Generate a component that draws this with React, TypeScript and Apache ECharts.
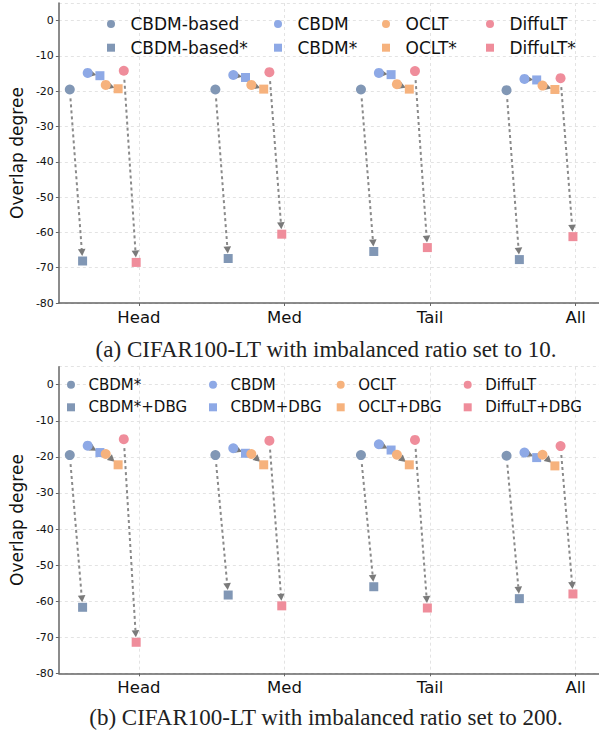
import React, { useEffect, useRef } from 'react';
import * as echarts from 'echarts';

// ---------- data ----------
const categories = ['Head', 'Med', 'Tail', 'All'];
const categoryValues = [1, 2, 3, 4];

// (a) CIFAR100-LT, imbalance ratio 10
const aNames = ['CBDM-based', 'CBDM-based*', 'CBDM', 'CBDM*', 'OCLT', 'OCLT*', 'DiffuLT', 'DiffuLT*'];
const aCbdmBased = [-19.5, -19.5, -19.5, -19.7];
const aCbdmBasedStar = [-68.1, -67.4, -65.4, -67.7];
const aCbdm = [-14.8, -15.4, -14.8, -16.5];
const aCbdmStar = [-15.6, -16.1, -15.3, -16.8];
const aOclt = [-18.2, -18.2, -18.0, -18.4];
const aOcltStar = [-19.3, -19.4, -19.4, -19.5];
const aDiffult = [-14.2, -14.6, -14.3, -16.3];
const aDiffultStar = [-68.5, -60.5, -64.3, -61.2];

// (b) CIFAR100-LT, imbalance ratio 200
const bNames = ['CBDM*', 'CBDM*+DBG', 'CBDM', 'CBDM+DBG', 'OCLT', 'OCLT+DBG', 'DiffuLT', 'DiffuLT+DBG'];
const bCbdmStar = [-19.5, -19.5, -19.5, -19.7];
const bCbdmStarDbg = [-61.7, -58.3, -56.0, -59.3];
const bCbdm = [-16.9, -17.6, -16.5, -18.8];
const bCbdmDbg = [-18.8, -19.0, -18.1, -20.2];
const bOclt = [-19.2, -19.2, -19.4, -19.4];
const bOcltDbg = [-22.2, -22.2, -22.2, -22.5];
const bDiffult = [-15.1, -15.5, -15.3, -17.0];
const bDiffultDbg = [-71.4, -61.3, -61.9, -58.0];

const aValues = [aCbdmBased, aCbdmBasedStar, aCbdm, aCbdmStar, aOclt, aOcltStar, aDiffult, aDiffultStar];
const bValues = [bCbdmStar, bCbdmStarDbg, bCbdm, bCbdmDbg, bOclt, bOcltDbg, bDiffult, bDiffultDbg];

const captionA = '(a) CIFAR100-LT with imbalanced ratio set to 10.';
const captionB = '(b) CIFAR100-LT with imbalanced ratio set to 200.';
const yName = 'Overlap degree';

// ---------- styles / layout ----------
const markerOffsets = [-0.475, -0.387, -0.352, -0.268, -0.228, -0.143, -0.104, -0.019];
const colors = ['#8197B5', '#8197B5', '#8EA9E6', '#8EA9E6', '#F6B27D', '#F6B27D', '#EF8D9B', '#EF8D9B'];
const SQUARE = 'path://M0,0L10,0L10,10L0,10Z';
const CIRCLE = 'path://M5,0A5,5,0,1,1,5,10A5,5,0,1,1,5,0Z';
const symbols = [CIRCLE, SQUARE, CIRCLE, SQUARE, CIRCLE, SQUARE, CIRCLE, SQUARE];
const FONT = 'DejaVu Sans';
const ICON = 8;

function buildPanel(idx: number, names: string[], values: number[][]) {
  const series: any[] = [];
  names.forEach((name, s) => {
    series.push({
      type: 'scatter',
      name,
      xAxisIndex: idx,
      yAxisIndex: idx,
      symbol: s % 2 === 0 ? 'circle' : 'rect',
      symbolSize: s % 2 === 0 ? 10 : 9,
      itemStyle: { color: colors[s], opacity: 1 },
      z: 3,
      data: values[s].map((v, i) => [categoryValues[i] + markerOffsets[s], v]),
    });
  });
  const arrows: number[][] = [];
  for (let i = 0; i < categoryValues.length; i++) {
    for (let p = 0; p < 4; p++) {
      const a = p * 2, b = p * 2 + 1;
      arrows.push([
        categoryValues[i] + markerOffsets[a], values[a][i],
        categoryValues[i] + markerOffsets[b], values[b][i],
      ]);
    }
  }
  series.push({
    type: 'custom',
    xAxisIndex: idx,
    yAxisIndex: idx,
    silent: true,
    z: 2,
    encode: { x: [0, 2], y: [1, 3] },
    data: arrows,
    renderItem: (params: any, api: any) => {
      const p1 = api.coord([api.value(0), api.value(1)]);
      const p2 = api.coord([api.value(2), api.value(3)]);
      const dx = p2[0] - p1[0], dy = p2[1] - p1[1];
      const d = Math.hypot(dx, dy) || 1;
      const ux = dx / d, uy = dy / d;
      const sA = Math.min(9, d * 0.3);
      const sB = Math.min(5, d * 0.28);
      const hl = 7, hw = 3.8;
      const tip = [p2[0] - ux * sB, p2[1] - uy * sB];
      const base = [tip[0] - ux * hl, tip[1] - uy * hl];
      const start = [p1[0] + ux * sA, p1[1] + uy * sA];
      const children: any[] = [];
      if (d - sA - sB - hl > 0) {
        children.push({
          type: 'line',
          shape: { x1: start[0], y1: start[1], x2: base[0], y2: base[1] },
          style: { stroke: '#8a8a8a', lineWidth: 2, lineDash: [3, 3] },
        });
      }
      children.push({
        type: 'polygon',
        shape: {
          points: [tip, [base[0] - uy * hw, base[1] + ux * hw], [base[0] + uy * hw, base[1] - ux * hw]],
        },
        style: { fill: '#7a7a7a' },
      });
      return { type: 'group', children };
    },
  });
  return series;
}

function buildLegends(names: string[], centers: number[], top: number, fontSize: number, lineHeight: number, gap: number, width: number) {
  const legends: any[] = [];
  for (let c = 0; c < 4; c++) {
    legends.push({
      orient: 'vertical',
      left: centers[c] - ICON / 2,
      top,
      padding: 0,
      itemGap: gap,
      itemWidth: width,
      itemHeight: ICON,
      selectedMode: false,
      symbolKeepAspect: true,
      textStyle: { fontFamily: FONT, fontSize, lineHeight, color: '#111' },
      data: [0, 1].map((k) => {
        const s = c * 2 + k;
        return { name: names[s], icon: symbols[s], itemStyle: { color: colors[s] } };
      }),
    });
  }
  return legends;
}

function xAxisDef(idx: number) {
  return {
    type: 'value',
    gridIndex: idx,
    min: 0.45,
    max: 4.16,
    axisLine: { show: true, onZero: false, lineStyle: { color: '#666', width: 1.5 } },
    axisTick: { show: true, length: 3, customValues: categoryValues, lineStyle: { color: '#666' } },
    axisLabel: {
      customValues: categoryValues,
      margin: 6,
      fontFamily: FONT,
      fontSize: 16.5,
      color: '#111',
      formatter: (v: number) => categories[Math.round(v) - 1] ?? '',
    },
    splitLine: { show: true, lineStyle: { color: '#e3e3e3', type: [3, 3], width: 1 } },
  };
}

function yAxisDef(idx: number) {
  return {
    type: 'value',
    gridIndex: idx,
    min: -80,
    max: 5,
    interval: 10,
    name: yName,
    nameLocation: 'middle',
    nameGap: 30,
    nameTextStyle: { fontFamily: FONT, fontSize: 17, color: '#111' },
    axisLine: { show: true, onZero: false, lineStyle: { color: '#666', width: 1.5 } },
    axisTick: { show: true, length: 3, lineStyle: { color: '#666' } },
    axisLabel: { margin: 5, fontFamily: FONT, fontSize: 11, color: '#111', showMaxLabel: false },
    splitLine: { show: true, lineStyle: { color: '#e3e3e3', type: [3, 3], width: 1 } },
  };
}

export default function App() {
  const ref = useRef<HTMLDivElement>(null);
  useEffect(() => {
    if (!ref.current) return;
    const chart = echarts.init(ref.current, undefined, { renderer: 'svg' });
    chart.setOption({
      animation: false,
      backgroundColor: '#fff',
      grid: [
        { left: 57, top: 3, width: 542, height: 300 },
        { left: 57, top: 366.7, width: 542, height: 306.6 },
      ],
      xAxis: [xAxisDef(0), xAxisDef(1)],
      yAxis: [yAxisDef(0), yAxisDef(1)],
      legend: [
        ...buildLegends(aNames, [111, 278, 386, 490], 14, 17, 20, 3.7, 29),
        ...buildLegends(bNames, [71, 213, 340.7, 467.7], 375.7, 15, 18, 4.6, 25),
      ],
      graphic: [
        {
          type: 'text',
          x: 326,
          y: 349,
          style: { text: captionA, fontFamily: 'Liberation Serif', fontSize: 23, fill: '#222', textAlign: 'center', textVerticalAlign: 'middle' },
        },
        {
          type: 'text',
          x: 326,
          y: 717,
          style: { text: captionB, fontFamily: 'Liberation Serif', fontSize: 23, fill: '#222', textAlign: 'center', textVerticalAlign: 'middle' },
        },
      ],
      series: [...buildPanel(0, aNames, aValues), ...buildPanel(1, bNames, bValues)],
    });
    return () => chart.dispose();
  }, []);
  return <div ref={ref} style={{ position: 'fixed', left: 0, top: 0, width: 599, height: 731, background: '#fff' }} />;
}
